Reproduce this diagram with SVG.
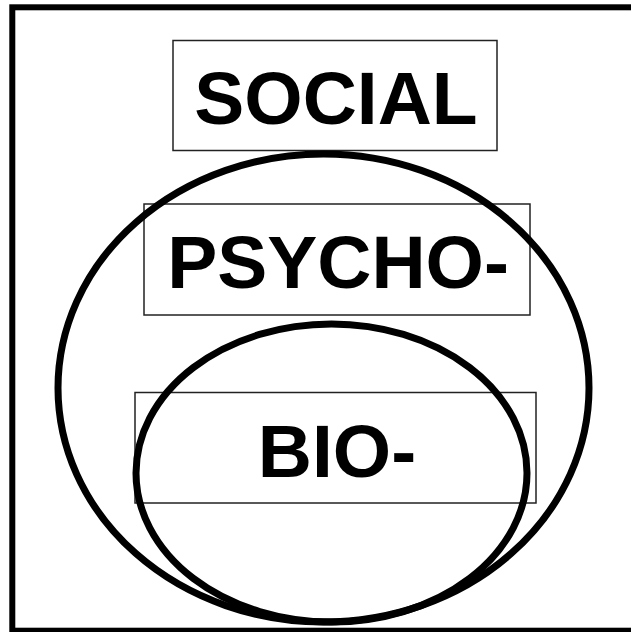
<svg xmlns="http://www.w3.org/2000/svg" width="631" height="632" viewBox="0 0 631 632">
<style>
.frame{fill:none;stroke:#000;stroke-width:6}
.box{fill:none;stroke:#222;stroke-width:1.5}
.ell{fill:none;stroke:#000;stroke-width:7}
.lbl{font-family:"Liberation Sans",Arial,sans-serif;font-weight:bold;font-size:75px;fill:#000;text-anchor:middle}
</style>
<rect x="0" y="0" width="631" height="632" fill="#fff"/>
<rect class="frame" x="12.3" y="7.3" width="626" height="623.4"/>
<g id="social">
<rect class="box" x="173" y="40.5" width="324" height="110"/>
<text class="lbl" x="336" y="124">SOCIAL</text>
</g>
<g id="psycho">
<rect class="box" x="144" y="204" width="386" height="111"/>
<text class="lbl" x="338" y="287.7">PSYCHO-</text>
</g>
<g id="bio">
<rect class="box" x="135" y="392.5" width="401" height="110.5"/>
<text class="lbl" x="337" y="476.7">BIO-</text>
</g>
<g id="connectors">
<ellipse id="psycho-ellipse" class="ell" cx="323.5" cy="388" rx="265.5" ry="234"/>
<ellipse id="bio-ellipse" class="ell" cx="331.5" cy="473" rx="195.5" ry="149" stroke-width="6.5"/>
</g>
</svg>
